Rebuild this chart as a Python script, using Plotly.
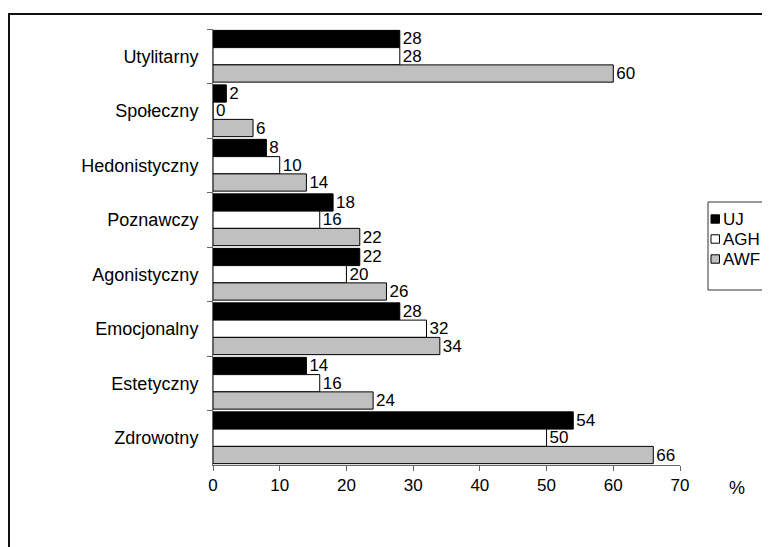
import plotly.graph_objects as go

categories = ["Utylitarny", "Społeczny", "Hedonistyczny", "Poznawczy",
              "Agonistyczny", "Emocjonalny", "Estetyczny", "Zdrowotny"]
series_names = ["UJ", "AGH", "AWF"]
uj = [28, 2, 8, 18, 22, 28, 14, 54]
agh = [28, 0, 10, 16, 20, 32, 16, 50]
awf = [60, 6, 14, 22, 26, 34, 24, 66]
series_values = [uj, agh, awf]
series_colors = ["#000000", "#ffffff", "#c0c0c0"]
x_ticks = [0, 10, 20, 30, 40, 50, 60, 70]

FONT = "Liberation Sans, Arial, sans-serif"

fig = go.Figure()
for name, vals, col in zip(series_names, series_values, series_colors):
    fig.add_trace(go.Bar(
        y=categories, x=vals, name=name, orientation="h",
        marker=dict(color=col, line=dict(color="#000000", width=1)),
        text=[str(v) for v in vals], textposition="outside",
        textfont=dict(family=FONT, size=17, color="#000000"),
        constraintext="none", cliponaxis=False, showlegend=False,
    ))

# page offset (browser body margin) and axis pixel geometry in figure coords
OFF = 8
W, H = 770, 547
L, T = 213 - OFF, 29 - OFF
R = W - (680 - OFF)
B = H - (465 - OFF)
pw, ph = W - L - R, H - T - B

def px(xs):
    return (xs - OFF - L) / pw

def py(ys):
    return (H - B - (ys - OFF)) / ph

shapes = []
annotations = []
# outer chart border (right/bottom run off the page)
shapes.append(dict(type="rect", xref="paper", yref="paper",
                   x0=px(9), x1=px(820), y0=py(620), y1=py(14),
                   line=dict(color="#111111", width=2), fillcolor="rgba(0,0,0,0)"))
# legend box
shapes.append(dict(type="rect", xref="paper", yref="paper",
                   x0=px(708), x1=px(820), y0=py(290), y1=py(202),
                   line=dict(color="#333333", width=1), fillcolor="rgba(0,0,0,0)"))
for i, (name, col) in enumerate(zip(series_names, series_colors)):
    cy = 219 + 20 * i
    shapes.append(dict(type="rect", xref="paper", yref="paper",
                       x0=px(711), x1=px(719.5), y0=py(cy + 4.2), y1=py(cy - 4.2),
                       line=dict(color="#000000", width=1), fillcolor=col))
    annotations.append(dict(text=name, xref="paper", yref="paper",
                            x=px(721), y=py(cy), xanchor="left", yanchor="middle",
                            showarrow=False, font=dict(family=FONT, size=17, color="#000000")))
# unit label
annotations.append(dict(text="%", xref="paper", yref="paper",
                        x=px(737), y=py(488), xanchor="center", yanchor="middle",
                        showarrow=False, font=dict(family=FONT, size=18, color="#000000")))

fig.update_layout(
    width=W, height=H,
    margin=dict(l=L, r=R, t=T, b=B, autoexpand=False),
    paper_bgcolor="#ffffff", plot_bgcolor="#ffffff",
    barmode="group", bargap=0.05, bargroupgap=0,
    font=dict(family=FONT, size=17, color="#000000"),
    shapes=shapes, annotations=annotations,
    xaxis=dict(range=[0, 70], tickvals=x_ticks, ticktext=[str(v) for v in x_ticks],
               showgrid=False, zeroline=False, showline=True, linecolor="#666666",
               linewidth=1, ticks="outside", ticklen=5, tickcolor="#666666",
               tickfont=dict(family=FONT, size=17, color="#000000")),
    yaxis=dict(autorange="reversed", showgrid=False, zeroline=False, showline=True,
               linecolor="#666666", linewidth=1, ticks="outside", ticklen=5,
               tickcolor="#666666", tickson="boundaries", ticklabelstandoff=10,
               tickfont=dict(family=FONT, size=18, color="#000000")),
)

fig.write_html("out.html")
